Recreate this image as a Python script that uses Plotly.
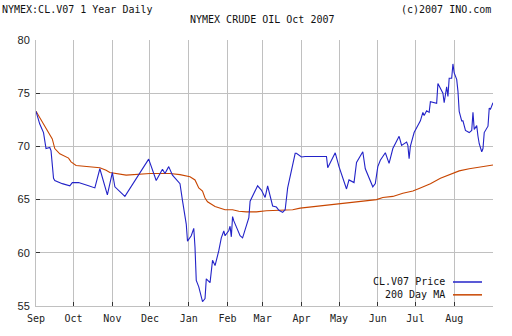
import plotly.graph_objects as go

# ---- data ----
price_dates = [
    "2006-09-01", "2006-09-04", "2006-09-07", "2006-09-09", "2006-09-12", "2006-09-13",
    "2006-09-15", "2006-09-16", "2006-09-22", "2006-09-28", "2006-09-30", "2006-10-05",
    "2006-10-13", "2006-10-18", "2006-10-22", "2006-10-28", "2006-11-01", "2006-11-03",
    "2006-11-11", "2006-11-30", "2006-12-06", "2006-12-11", "2006-12-13", "2006-12-16",
    "2006-12-19", "2006-12-25", "2006-12-27", "2006-12-30", "2006-12-31", "2007-01-03",
    "2007-01-05", "2007-01-06", "2007-01-07", "2007-01-09", "2007-01-12", "2007-01-14",
    "2007-01-15", "2007-01-18", "2007-01-20", "2007-01-22", "2007-01-25", "2007-01-27",
    "2007-01-29", "2007-01-30", "2007-02-02", "2007-02-03", "2007-02-04", "2007-02-05",
    "2007-02-06", "2007-02-09", "2007-02-11", "2007-02-13", "2007-02-18", "2007-02-19",
    "2007-02-23", "2007-02-25", "2007-02-28", "2007-03-03", "2007-03-05", "2007-03-09",
    "2007-03-12", "2007-03-14", "2007-03-17", "2007-03-19", "2007-03-21", "2007-03-27",
    "2007-03-28", "2007-04-01", "2007-04-04", "2007-04-21", "2007-04-22", "2007-04-28",
    "2007-05-01", "2007-05-07", "2007-05-09", "2007-05-13", "2007-05-15", "2007-05-20",
    "2007-05-22", "2007-05-28", "2007-05-30", "2007-06-01", "2007-06-03", "2007-06-07",
    "2007-06-10", "2007-06-13", "2007-06-18", "2007-06-20", "2007-06-24", "2007-06-25",
    "2007-06-26", "2007-06-27", "2007-06-30", "2007-07-05", "2007-07-07", "2007-07-08",
    "2007-07-10", "2007-07-12", "2007-07-13", "2007-07-18", "2007-07-19", "2007-07-22",
    "2007-07-23", "2007-07-24", "2007-07-26", "2007-07-27", "2007-07-28", "2007-07-30",
    "2007-07-31", "2007-08-01", "2007-08-03", "2007-08-04", "2007-08-05", "2007-08-07",
    "2007-08-08", "2007-08-10", "2007-08-13", "2007-08-15", "2007-08-16", "2007-08-17",
    "2007-08-19", "2007-08-20", "2007-08-21", "2007-08-23", "2007-08-24", "2007-08-25",
    "2007-08-28", "2007-08-29", "2007-08-30", "2007-09-01",
]
price_values = [
    73.3, 72.1, 71.3, 69.8, 69.9, 69.6,
    67.0, 66.8, 66.5, 66.3, 66.6, 66.6,
    66.3, 66.1, 67.9, 65.45, 67.55, 66.2,
    65.3, 68.8, 66.8, 67.85, 67.45, 68.1,
    67.3, 66.5, 64.9, 62.7, 61.1, 61.6,
    62.3, 60.5, 57.4, 56.8, 55.4, 55.7,
    57.55, 57.2, 59.3, 58.8, 60.2, 61.4,
    62.05, 61.6, 62.1, 62.5, 61.5, 63.4,
    63.0, 62.05, 61.6, 61.4, 63.3, 64.85,
    65.75, 66.3, 65.9, 65.2, 66.3, 64.4,
    64.3, 64.0, 63.8, 64.05, 66.1, 69.35,
    69.35, 69.0, 69.05, 69.05, 68.0, 69.4,
    68.1, 66.0, 66.85, 66.6, 68.5, 69.5,
    67.9, 66.2, 66.5, 68.1, 68.7, 69.4,
    68.4, 69.8, 70.95, 70.1, 70.4, 70.1,
    68.85, 70.0, 71.3, 72.4, 73.2, 72.9,
    73.35, 73.2, 74.2, 74.05, 75.9, 75.3,
    75.0, 74.1, 75.6, 74.7, 76.4, 76.4,
    77.75, 76.9, 76.3, 75.2, 73.3, 72.4,
    72.4, 71.5, 71.3, 71.5, 73.2, 71.6,
    71.95, 70.95, 70.25, 69.5, 69.8, 71.3,
    71.9, 73.6, 73.5, 74.1,
]

ma_dates = [
    "2006-09-01", "2006-09-07", "2006-09-11", "2006-09-14", "2006-09-16", "2006-09-20",
    "2006-09-27", "2006-09-29", "2006-10-03", "2006-10-13", "2006-10-22", "2006-10-27",
    "2006-10-30", "2006-11-12", "2006-11-23", "2006-12-01", "2006-12-17", "2006-12-25",
    "2007-01-02", "2007-01-06", "2007-01-09", "2007-01-12", "2007-01-14", "2007-01-16",
    "2007-01-22", "2007-01-27", "2007-01-30", "2007-02-05", "2007-02-10", "2007-02-16",
    "2007-02-24", "2007-03-04", "2007-03-12", "2007-03-20", "2007-03-25", "2007-03-31",
    "2007-04-07", "2007-04-15", "2007-04-23", "2007-04-30", "2007-05-12", "2007-05-31",
    "2007-06-05", "2007-06-13", "2007-06-21", "2007-06-29", "2007-07-04", "2007-07-13",
    "2007-07-21", "2007-07-29", "2007-08-05", "2007-08-13", "2007-08-21", "2007-09-01",
]
ma_values = [
    73.3, 72.1, 71.3, 70.7, 69.8, 69.3,
    68.9, 68.55, 68.2, 68.1, 68.0, 67.75,
    67.55, 67.3, 67.35, 67.45, 67.45, 67.35,
    67.15, 66.85, 66.1, 65.8, 65.15, 64.8,
    64.35, 64.15, 64.05, 64.05, 63.9, 63.85,
    63.85, 63.95, 64.0, 64.0, 64.05, 64.2,
    64.3, 64.4, 64.5, 64.6, 64.75, 65.0,
    65.2, 65.3, 65.6, 65.8, 66.05, 66.5,
    67.0, 67.4, 67.7, 67.9, 68.05, 68.25,
]

month_ticks = ["2006-09-01", "2006-10-01", "2006-11-01", "2006-12-01", "2007-01-01",
               "2007-02-01", "2007-03-01", "2007-04-01", "2007-05-01", "2007-06-01",
               "2007-07-01", "2007-08-01"]
month_labels = ["Sep", "Oct", "Nov", "Dec", "Jan", "Feb", "Mar", "Apr", "May", "Jun",
                "Jul", "Aug"]
y_ticks = [55, 60, 65, 70, 75, 80]

x_range = ["2006-09-01", "2007-09-01"]
y_range = [55, 80]

BLUE = "#2323c8"
ORANGE = "#c84600"
GRID = "#c0c0c0"
TICK = "#333333"
MONO = "DejaVu Sans Mono"

fig = go.Figure()
fig.add_trace(go.Scatter(x=ma_dates, y=ma_values, mode="lines", name="200 Day MA",
                         line=dict(color=ORANGE, width=1.1), showlegend=False))
fig.add_trace(go.Scatter(x=price_dates, y=price_values, mode="lines", name="CL.V07 Price",
                         line=dict(color=BLUE, width=1.1), showlegend=False))

fig.update_layout(
    width=512, height=336,
    margin=dict(l=36, r=19, t=40, b=27),
    paper_bgcolor="white", plot_bgcolor="white",
    showlegend=False,
    xaxis=dict(
        type="date", range=x_range, tickvals=month_ticks, ticktext=month_labels,
        showgrid=True, gridcolor=GRID, gridwidth=1,
        showline=True, linecolor=GRID, linewidth=1,
        ticks="inside", ticklen=4, tickcolor=TICK, tickwidth=1,
        tickfont=dict(family=MONO, size=10, color="#222222"),
        ticklabelstandoff=3,
        zeroline=False, fixedrange=True,
    ),
    yaxis=dict(
        range=y_range, tickvals=y_ticks,
        showgrid=True, gridcolor=GRID, gridwidth=1,
        showline=True, linecolor=GRID, linewidth=1,
        ticks="inside", ticklen=4, tickcolor=TICK, tickwidth=1,
        tickfont=dict(family="Liberation Sans", size=11, color="#222222"),
        ticklabelstandoff=3,
        zeroline=False, fixedrange=True,
    ),
    xaxis2=dict(
        type="date", range=x_range, tickvals=month_ticks, overlaying="x", side="top",
        anchor="y", showgrid=False, showline=False, showticklabels=False,
        ticks="inside", ticklen=4, tickcolor=TICK, tickwidth=1, zeroline=False,
    ),
    yaxis2=dict(
        range=y_range, tickvals=y_ticks, overlaying="y", side="right", anchor="x",
        showgrid=False, showline=False, showticklabels=False,
        ticks="inside", ticklen=4, tickcolor=TICK, tickwidth=1, zeroline=False,
    ),
)

# header texts
ann_font = dict(family=MONO, size=10, color="#111111")
fig.add_annotation(text="NYMEX:CL.V07 1 Year Daily", xref="paper", yref="paper",
                   x=-36 / 457, y=1 + 31 / 269, xanchor="left", yanchor="middle",
                   showarrow=False, font=ann_font)
fig.add_annotation(text="(c)2007 INO.com", xref="paper", yref="paper",
                   x=1.0, y=1 + 31 / 269, xanchor="right", yanchor="middle",
                   showarrow=False, font=ann_font)
fig.add_annotation(text="NYMEX CRUDE OIL Oct 2007", xref="paper", yref="paper",
                   x=(262 - 36) / 457, y=1 + 21 / 269, xanchor="center", yanchor="middle",
                   showarrow=False, font=ann_font)

# legend (text on the left, line sample on the right, as in the reference)
fig.add_shape(type="rect", xref="paper", yref="paper",
              x0=(362 - 36) / 457, x1=(488 - 36) / 457,
              y0=(309.3 - 303) / 269.3, y1=(309.3 - 279) / 269.3,
              fillcolor="white", line=dict(width=0), layer="between")
legend_items = [("CL.V07 Price", BLUE, 285), ("200 Day MA", ORANGE, 298)]
for label, color, py in legend_items:
    yp = (309.3 - py) / 269.3
    fig.add_annotation(text=label, xref="paper", yref="paper",
                       x=(447 - 36) / 457, y=yp, xanchor="right", yanchor="middle",
                       showarrow=False, font=ann_font)
    fig.add_shape(type="line", xref="paper", yref="paper",
                  x0=(453 - 36) / 457, x1=(482 - 36) / 457, y0=yp, y1=yp,
                  line=dict(color=color, width=1.5))

fig.write_html("out.html")
